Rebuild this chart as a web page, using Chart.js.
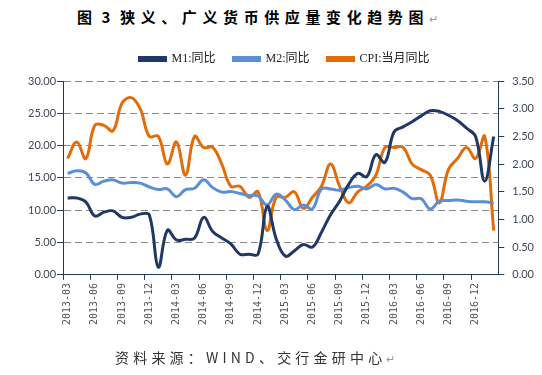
<!DOCTYPE html>
<html>
<head>
<meta charset="utf-8">
<script src="https://cdn.jsdelivr.net/npm/chart.js@4.4.0/dist/chart.umd.min.js"></script>
<style>
  body { margin: 0; background: #fff; width: 542px; height: 375px; overflow: hidden; position: relative; }
  #title {
    position: absolute; left: 77px; top: 6px; white-space: nowrap;
    font-family: "Noto Sans CJK SC", sans-serif; font-weight: bold; font-size: 15px;
    letter-spacing: 5.6px; color: #000;
  }
  #source {
    position: absolute; left: 115px; top: 347px; white-space: nowrap;
    font-family: "Noto Sans CJK SC", sans-serif; font-size: 14px;
    letter-spacing: 4.2px; color: #333;
  }
  .mark { color: #999; font-weight: normal; font-size: 11px; letter-spacing: 0; }
  #c { position: absolute; left: 0; top: 0; }
</style>
</head>
<body>
<div id="title">图<span style="margin-left:4px">3</span><span style="margin-left:4px">狭义、广义货币供应量变化趋势图</span><span class="mark">↵</span></div>
<canvas id="c" width="542" height="375"></canvas>
<div id="source">资料来源：WIND、交行金研中心<span class="mark">↵</span></div>
<script>
// 월별 라벨 (2013-03 ~ 2017-02)
var months = [
    '2013-03','2013-04','2013-05','2013-06','2013-07','2013-08','2013-09','2013-10','2013-11','2013-12',
    '2014-01','2014-02','2014-03','2014-04','2014-05','2014-06','2014-07','2014-08','2014-09','2014-10','2014-11','2014-12',
    '2015-01','2015-02','2015-03','2015-04','2015-05','2015-06','2015-07','2015-08','2015-09','2015-10','2015-11','2015-12',
    '2016-01','2016-02','2016-03','2016-04','2016-05','2016-06','2016-07','2016-08','2016-09','2016-10','2016-11','2016-12',
    '2017-01','2017-02'
];

// M1 同比 (left axis)
var m1 = [
    11.9, 11.9, 11.3, 9.1, 9.7, 9.9, 8.9, 8.9, 9.4, 9.3,
    1.2, 6.9, 5.4, 5.5, 5.7, 8.9, 6.7, 5.7, 4.8, 3.2, 3.2, 3.2,
    10.6, 5.6, 2.9, 3.7, 4.7, 4.3, 6.6, 9.3, 11.4, 14.0, 15.7, 15.2,
    18.6, 17.4, 22.1, 22.9, 23.7, 24.6, 25.4, 25.3, 24.7, 23.9, 22.7, 21.4,
    14.5, 21.4
];

// M2 同比 (left axis)
var m2 = [
    15.7, 16.1, 15.8, 14.0, 14.5, 14.7, 14.2, 14.3, 14.2, 13.6,
    13.2, 13.3, 12.1, 13.2, 13.4, 14.7, 13.5, 12.8, 12.9, 12.6, 12.3, 12.2,
    10.8, 12.5, 11.6, 10.1, 10.8, 10.2, 13.3, 13.3, 13.1, 13.5, 13.7, 13.3,
    14.0, 13.3, 13.4, 12.8, 11.8, 11.8, 10.2, 11.4, 11.5, 11.6, 11.4, 11.3,
    11.3, 11.1
];

// CPI 当月同比 (right axis)
var cpi = [
    2.1, 2.4, 2.1, 2.7, 2.7, 2.6, 3.1, 3.2, 3.0, 2.5,
    2.5, 2.0, 2.4, 1.8, 2.5, 2.3, 2.3, 2.0, 1.6, 1.6, 1.4, 1.5,
    0.8, 1.4, 1.4, 1.5, 1.2, 1.4, 1.6, 2.0, 1.6, 1.3, 1.5, 1.6,
    1.8, 2.3, 2.3, 2.3, 2.0, 1.9, 1.8, 1.3, 1.9, 2.1, 2.3, 2.1,
    2.5, 0.8
];

var navy = '#1f3864';
var axisText = '#3e4756';
var tickFont = { family: 'Lato, sans-serif', size: 11 };

var ctx = document.getElementById('c').getContext('2d');

function series(label, data, color, axis) {
    return {
        label: label,
        data: data,
        yAxisID: axis,
        borderColor: color,
        backgroundColor: color,
        borderWidth: 3,
        pointRadius: 0,
        tension: 0.4
    };
}

// 범례 아래 여백을 조금 늘림
var legendGap = {
    id: 'legendGap',
    beforeUpdate: function(chart) {
        var lg = chart.legend;
        if (!lg || lg._gapPatched) return;
        var fit = lg.fit;
        lg.fit = function() {
            fit.apply(this, arguments);
            this.height += 6;
        };
        lg._gapPatched = true;
    }
};

var chart = new Chart(ctx, {
    type: 'line',
    data: {
        labels: months,
        datasets: [
            series('M1:同比', m1, navy, 'y'),
            series('M2:同比', m2, '#5b8ed6', 'y'),
            series('CPI:当月同比', cpi, '#e36c0a', 'y1')
        ]
    },
    plugins: [legendGap],
    options: {
        responsive: false,
        animation: false,
        layout: { padding: { left: 27, right: 0, top: 35, bottom: 47 } },
        plugins: {
            legend: {
                labels: {
                    boxWidth: 26,
                    boxHeight: 3,
                    padding: 18,
                    color: '#222',
                    font: { family: "'Liberation Serif', 'Noto Sans CJK SC'", size: 12 }
                }
            },
            tooltip: { enabled: false }
        },
        scales: {
            x: {
                offset: true,
                grid: {
                    offset: true,
                    drawOnChartArea: false,
                    tickLength: 5,
                    tickColor: function(c) { return c.index % 3 === 0 ? navy : 'rgba(0,0,0,0)'; }
                },
                border: { color: navy, width: 1 },
                ticks: {
                    autoSkip: false,
                    maxRotation: 90,
                    minRotation: 90,
                    padding: 3,
                    color: '#555',
                    font: { family: "'DejaVu Sans Mono', monospace", size: 10 },
                    callback: function(v, i) { return i % 3 === 0 ? this.getLabelForValue(v) : ''; }
                }
            },
            y: {
                position: 'left',
                min: 0,
                max: 30,
                ticks: {
                    stepSize: 5,
                    padding: 1,
                    color: axisText,
                    font: tickFont,
                    callback: function(v) { return v.toFixed(2); }
                },
                grid: {
                    color: function(c) { return c.tick && c.tick.value === 0 ? 'rgba(0,0,0,0)' : '#8a8a8a'; },
                    tickColor: navy,
                    tickLength: 6,
                    tickBorderDash: []
                },
                border: { color: navy, width: 1, dash: [7, 4] }
            },
            y1: {
                position: 'right',
                min: 0,
                max: 3.5,
                ticks: {
                    stepSize: 0.5,
                    padding: 8,
                    color: axisText,
                    font: tickFont,
                    callback: function(v) { return v.toFixed(2); }
                },
                grid: { drawOnChartArea: false, tickColor: navy, tickLength: 6 },
                border: { color: navy, width: 1 }
            }
        }
    }
});
</script>
</body>
</html>
